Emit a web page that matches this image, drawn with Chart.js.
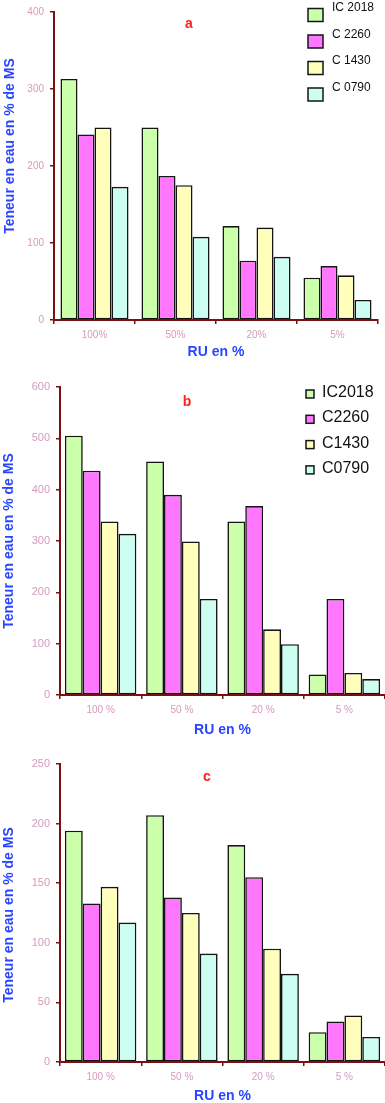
<!DOCTYPE html>
<html>
<head>
<meta charset="utf-8">
<script src="https://cdn.jsdelivr.net/npm/chart.js@4.4.1/dist/chart.umd.min.js"></script>
<style>
  html, body { margin: 0; padding: 0; background: #fff; }
  body { width: 385px; height: 1103px; position: relative; overflow: hidden; }
  canvas { position: absolute; left: 0; }
</style>
</head>
<body>
<canvas id="chartA" width="385" height="365" style="top:0px"></canvas>
<canvas id="chartB" width="385" height="375" style="top:365px"></canvas>
<canvas id="chartC" width="385" height="363" style="top:740px"></canvas>
<script>
// Categories (réserve utile) and tick values
const categoriesA = ['100%', '50%', '20%', '5%'];
const categoriesBC = ['100 %', '50 %', '20 %', '5 %'];
const yTicksA = [0, 100, 200, 300, 400];
const yTicksB = [0, 100, 200, 300, 400, 500, 600];
const yTicksC = [0, 50, 100, 150, 200, 250];

// Variety names as shown in each legend
const varietiesA = ['IC 2018', 'C 2260', 'C 1430', 'C 0790'];
const varietiesB = ['IC2018', 'C2260', 'C1430', 'C0790'];

// Panel a
const a_IC2018 = [313, 250, 122, 55];
const a_C2260 = [241, 187, 77, 70];
const a_C1430 = [250, 175, 120, 58];
const a_C0790 = [173, 108, 82, 26];

// Panel b
const b_IC2018 = [505, 455, 338, 40];
const b_C2260 = [437, 390, 368, 187];
const b_C1430 = [338, 299, 128, 43];
const b_C0790 = [314, 187, 99, 31];

// Panel c
const c_IC2018 = [194, 207, 182, 25];
const c_C2260 = [133, 138, 155, 34];
const c_C1430 = [147, 125, 95, 39];
const c_C0790 = [117, 91, 74, 21];

const FONT = '"Liberation Sans", Arial, sans-serif';
const fills = ['#ccffaa', '#ff77ff', '#ffffbb', '#ccfff2'];
const axisColor = '#7a1010';
const tickColor = '#d59bbb';
const titleBlue = '#2a45ff';

// panel letter, rotated y title and the little boxed legend
const panelDecor = {
  id: 'panelDecor',
  afterDatasetsDraw(chart, args, opts) {
    const ctx = chart.ctx;
    ctx.save();
    ctx.textAlign = 'center';
    ctx.textBaseline = 'middle';
    ctx.fillStyle = '#ff2020';
    ctx.font = 'bold 14px ' + FONT;
    ctx.fillText(opts.letter, opts.letterX, opts.letterY);

    ctx.save();
    ctx.translate(opts.yTitleX, opts.yTitleY);
    ctx.rotate(-Math.PI / 2);
    ctx.fillStyle = titleBlue;
    ctx.font = 'bold 14px ' + FONT;
    ctx.fillText('Teneur en eau en % de MS', 0, 0);
    ctx.restore();

    const lg = opts.legend;
    if (lg) {
      ctx.textAlign = 'left';
      ctx.font = lg.fontSize + 'px ' + FONT;
      chart.data.datasets.forEach((ds, i) => {
        const cy = lg.y + i * lg.step;
        ctx.fillStyle = ds.backgroundColor;
        ctx.fillRect(lg.x, cy + lg.boxDy - lg.boxH / 2, lg.boxW, lg.boxH);
        ctx.strokeStyle = '#151515';
        ctx.lineWidth = 1.5;
        ctx.strokeRect(lg.x, cy + lg.boxDy - lg.boxH / 2, lg.boxW, lg.boxH);
        ctx.fillStyle = '#111';
        ctx.fillText(ds.label, lg.textX, cy);
      });
    }
    ctx.restore();
  }
};

function makeChart(id, cfg) {
  const series = cfg.series.map((vals, i) => ({
    label: cfg.names[i],
    data: vals,
    backgroundColor: fills[i],
    borderColor: '#151515',
    borderWidth: 1.6,
    borderSkipped: false,
    categoryPercentage: cfg.catPct,
    barPercentage: 1
  }));
  return new Chart(document.getElementById(id), {
    type: 'bar',
    data: { labels: cfg.labels, datasets: series },
    options: {
      responsive: false,
      animation: false,
      layout: { padding: cfg.padding },
      plugins: {
        legend: { display: false },
        tooltip: { enabled: false },
        panelDecor: cfg.decor
      },
      scales: {
        x: {
          grid: { offset: true, drawOnChartArea: false, tickLength: 4, color: axisColor, lineWidth: 1.5 },
          border: { color: axisColor, width: 2 },
          ticks: { color: tickColor, font: { size: 10, family: FONT }, padding: 5 },
          title: {
            display: true, text: 'RU en %', color: titleBlue,
            font: { size: 14, weight: 'bold', family: FONT, lineHeight: 1 },
            padding: { top: 0, bottom: cfg.xTitlePad }
          },
          afterFit: s => { s.height = cfg.xHeight; }
        },
        y: {
          min: cfg.yTicks[0],
          max: cfg.yTicks[cfg.yTicks.length - 1],
          afterBuildTicks: s => { s.ticks = cfg.yTicks.map(v => ({ value: v })); },
          grid: { drawOnChartArea: false, tickLength: 4, color: axisColor, lineWidth: 1.5 },
          border: { color: axisColor, width: 2 },
          ticks: { color: tickColor, font: { size: cfg.yFont, family: FONT }, padding: 6 },
          afterFit: s => { s.width = cfg.yWidth; }
        }
      }
    },
    plugins: [panelDecor]
  });
}

makeChart('chartA', {
  labels: categoriesA,
  names: varietiesA,
  series: [a_IC2018, a_C2260, a_C1430, a_C0790],
  yTicks: yTicksA,
  catPct: 0.84,
  padding: { left: 0, right: 7, top: 8, bottom: 0 },
  yWidth: 54, xHeight: 45, xTitlePad: 6, yFont: 10,
  decor: {
    letter: 'a', letterX: 189, letterY: 24,
    yTitleX: 10, yTitleY: 146,
    legend: { x: 308, y: 8, step: 26.5, boxW: 15, boxH: 13, boxDy: 7, textX: 332, fontSize: 12 }
  }
});

makeChart('chartB', {
  labels: categoriesBC,
  names: varietiesB,
  series: [b_IC2018, b_C2260, b_C1430, b_C0790],
  yTicks: yTicksB,
  catPct: 0.88,
  padding: { left: 0, right: 0, top: 22, bottom: 0 },
  yWidth: 60, xHeight: 45, xTitlePad: 3, yFont: 11,
  decor: {
    letter: 'b', letterX: 187, letterY: 37,
    yTitleX: 9, yTitleY: 176,
    legend: { x: 306, y: 27.5, step: 25.3, boxW: 8, boxH: 8, boxDy: 1.5, textX: 322, fontSize: 16 }
  }
});

makeChart('chartC', {
  labels: categoriesBC,
  names: varietiesB,
  series: [c_IC2018, c_C2260, c_C1430, c_C0790],
  yTicks: yTicksC,
  catPct: 0.88,
  padding: { left: 0, right: 0, top: 24, bottom: 0 },
  yWidth: 60, xHeight: 41, xTitlePad: 0, yFont: 11,
  decor: {
    letter: 'c', letterX: 207, letterY: 37,
    yTitleX: 9, yTitleY: 175,
    legend: null
  }
});
</script>
</body>
</html>
